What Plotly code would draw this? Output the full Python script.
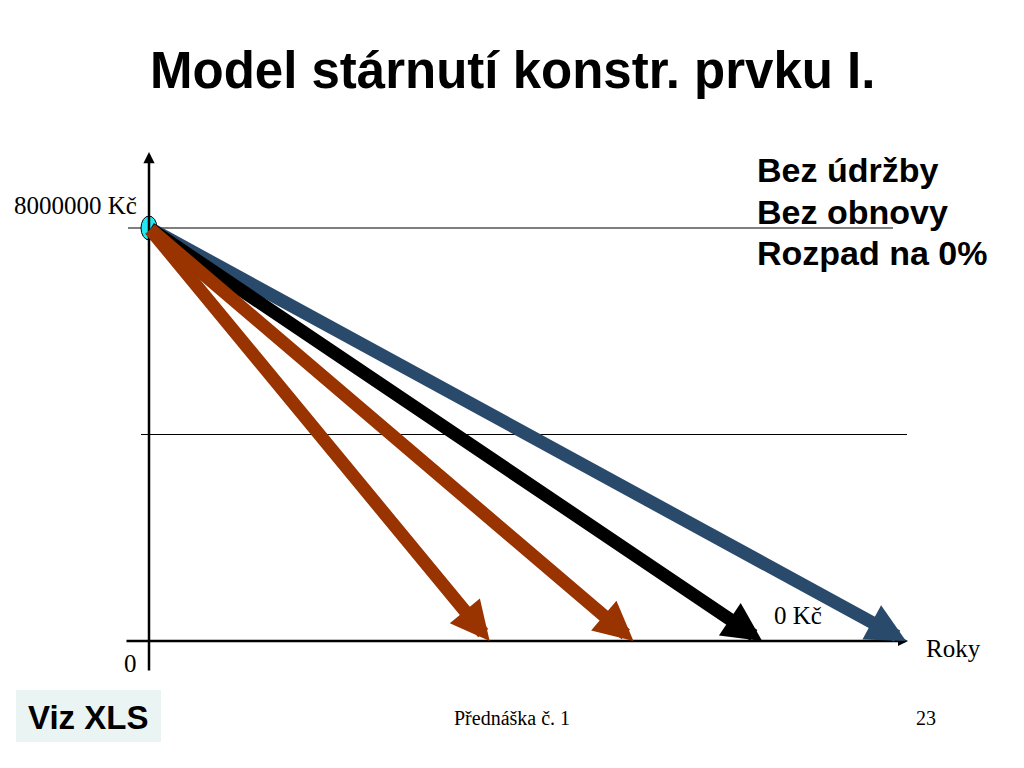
import plotly.graph_objects as go

# ---- data ----
start_value = 8000000            # Kč, initial value
mid_value = 4000000              # Kč, helper gridline
lifetimes = [45, 64, 81, 100]    # years until value drops to 0 Kč
arrow_colors = ["#993300", "#993300", "#000000", "#2A4A6C"]
texts_right = ["Bez údržby", "Bez obnovy", "Rozpad na 0%"]

# ---- layout mapping (figure pixels -> data) ----
W, H = 1024, 768
X0PX, Y0PX, YTOPPX = 149, 641, 228
PX_PER_YEAR = (906 - X0PX) / 100.0
PX_PER_KC = (Y0PX - YTOPPX) / start_value

def xd(px):
    return (px - X0PX) / PX_PER_YEAR

def yd(py):
    return (Y0PX - py) / PX_PER_KC

fig = go.Figure()
fig.add_trace(go.Scatter(x=[0], y=[start_value], mode="markers",
                         marker=dict(size=1, color="rgba(0,0,0,0)"),
                         hoverinfo="skip", showlegend=False))

shapes = []
# gridlines
shapes.append(dict(type="line", xref="x", yref="y", x0=xd(128), x1=xd(893),
                   y0=start_value, y1=start_value, line=dict(color="black", width=1.2)))
shapes.append(dict(type="line", xref="x", yref="y", x0=xd(141), x1=xd(907),
                   y0=mid_value, y1=mid_value, line=dict(color="black", width=1)))
# start marker ellipse
shapes.append(dict(type="circle", xref="x", yref="y",
                   x0=-8 / PX_PER_YEAR, x1=8 / PX_PER_YEAR,
                   y0=start_value - 12 / PX_PER_KC, y1=start_value + 12 / PX_PER_KC,
                   fillcolor="#22E6F0", line=dict(color="black", width=1)))

annotations = []
# axes with small arrowheads
annotations.append(dict(x=0, y=yd(152), ax=0, ay=yd(672), xref="x", yref="y",
                        axref="x", ayref="y", text="", showarrow=True,
                        arrowhead=2, arrowsize=0.9, arrowwidth=2.5, arrowcolor="black"))
annotations.append(dict(x=xd(908), y=0, ax=xd(125), ay=0, xref="x", yref="y",
                        axref="x", ayref="y", text="", showarrow=True,
                        arrowhead=2, arrowsize=0.8, arrowwidth=2.5, arrowcolor="black"))
# depreciation arrows (draw long ones first)
for life, col in sorted(zip(lifetimes, arrow_colors), key=lambda t: -t[0]):
    annotations.append(dict(x=life, y=0, ax=0, ay=start_value, xref="x", yref="y",
                            axref="x", ayref="y", text="", showarrow=True,
                            arrowhead=2, arrowsize=0.6, arrowwidth=13,
                            arrowcolor=col))

serif = "Liberation Serif, Times New Roman, serif"
sans = "Liberation Sans, Arial, sans-serif"

annotations.append(dict(x=xd(139), y=yd(205), xref="x", yref="y", text=f"{start_value} Kč",
                        showarrow=False, xanchor="right", yanchor="middle",
                        font=dict(family=serif, size=25, color="black")))
annotations.append(dict(x=xd(139), y=yd(663), xref="x", yref="y", text="0",
                        showarrow=False, xanchor="right", yanchor="middle",
                        font=dict(family=serif, size=25, color="black")))
annotations.append(dict(x=xd(772), y=yd(615), xref="x", yref="y", text="0 Kč",
                        showarrow=False, xanchor="left", yanchor="middle",
                        font=dict(family=serif, size=25, color="black")))
annotations.append(dict(x=xd(924), y=yd(648), xref="x", yref="y", text="Roky",
                        showarrow=False, xanchor="left", yanchor="middle",
                        font=dict(family=serif, size=25, color="black")))

for i, t in enumerate(texts_right):
    annotations.append(dict(x=755 / W, y=1 - (170 + 41.5 * i) / H, xref="paper", yref="paper",
                            text=f"<b>{t}</b>", showarrow=False, xanchor="left",
                            yanchor="middle", font=dict(family=sans, size=34, color="black")))

annotations.append(dict(x=512 / W, y=1 - 71 / H, xref="paper", yref="paper",
                        text="<b>Model stárnutí konstr. prvku I.</b>", showarrow=False,
                        xanchor="center", yanchor="middle",
                        font=dict(family=sans, size=51, color="black")))
annotations.append(dict(x=512 / W, y=1 - 718 / H, xref="paper", yref="paper",
                        text="Přednáška č. 1", showarrow=False, xanchor="center",
                        yanchor="middle", font=dict(family=serif, size=20, color="black")))
annotations.append(dict(x=926 / W, y=1 - 718 / H, xref="paper", yref="paper",
                        text="23", showarrow=False, xanchor="center",
                        yanchor="middle", font=dict(family=serif, size=20, color="black")))
shapes.append(dict(type="rect", xref="paper", yref="paper",
                   x0=16 / W, x1=161 / W, y0=1 - 742 / H, y1=1 - 690 / H,
                   fillcolor="#EAF4F2", line=dict(width=0), layer="below"))
annotations.append(dict(x=88 / W, y=1 - 717 / H, xref="paper", yref="paper",
                        text="<b>Viz XLS</b>", showarrow=False, xanchor="center",
                        yanchor="middle", font=dict(family=sans, size=33, color="black")))

fig.update_layout(
    width=W, height=H,
    margin=dict(l=0, r=0, t=0, b=0),
    paper_bgcolor="white", plot_bgcolor="white",
    xaxis=dict(range=[xd(0), xd(W)], visible=False, fixedrange=True),
    yaxis=dict(range=[yd(H), yd(0)], visible=False, fixedrange=True),
    shapes=shapes, annotations=annotations, showlegend=False,
)

fig.write_html("out.html", config={"displayModeBar": False},
               post_script="document.body.style.margin='0';document.body.style.overflow='hidden';")
